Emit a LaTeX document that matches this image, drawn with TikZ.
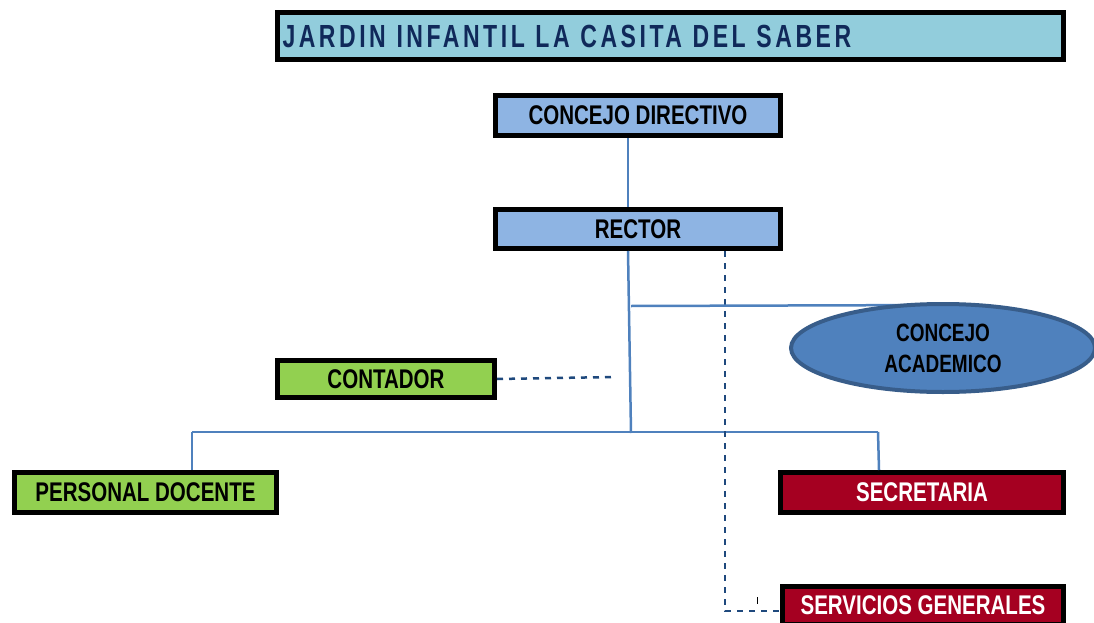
\documentclass[tikz,border=0pt]{standalone}
\usepackage{fontspec}
\setmainfont{Liberation Sans}
\newfontfamily\narrowfont[FakeStretch=0.76]{Liberation Sans}
\newfontfamily\titlefont[FakeStretch=0.72,LetterSpace=11]{Liberation Sans}
\usetikzlibrary{shapes.geometric}
\definecolor{titlebg}{HTML}{92CDDC}
\definecolor{titletext}{HTML}{10295A}
\definecolor{bluebox}{HTML}{8EB4E3}
\definecolor{greenbox}{HTML}{92D050}
\definecolor{redbox}{HTML}{A50021}
\definecolor{ellfill}{HTML}{4F81BD}
\definecolor{elldraw}{HTML}{385D8A}
\definecolor{solidline}{HTML}{4F81BD}
\definecolor{dashline}{HTML}{1F497D}
\tikzset{
  orgbox/.style={draw=black, line width=5pt, rectangle, inner sep=0pt,
    font=\narrowfont\bfseries\fontsize{27}{29}\selectfont},
  solidconn/.style={draw=solidline, line width=2.5pt},
  dashconn/.style={draw=dashline, line width=2.5pt, dash pattern=on 6pt off 6pt},
  acad/.style={ellipse, draw=elldraw, fill=ellfill, line width=4pt, minimum width=304,
    minimum height=88, inner sep=0pt, align=center,
    font=\narrowfont\bfseries\fontsize{25}{31}\selectfont},
}
\begin{document}
\begin{tikzpicture}[x=1pt,y=-1pt]
\useasboundingbox (0,0) rectangle (1094,623);
\clip (0,0) rectangle (1094,623);
% coordinates for connector routes
\coordinate (trunk) at (628,0);
\coordinate (trunkbot) at (631,433);
\coordinate (branch) at (631,306);
\coordinate (busL) at (192,432);
\coordinate (busR) at (878,432);
\coordinate (contEnd) at (614,377);
\coordinate (dotx) at (725,0);
\coordinate (dotcorner) at (725,611);
\coordinate (tickA) at (757,597);
\coordinate (tickB) at (757,604);

% nodes
\node[orgbox, fill=titlebg, minimum width=786, minimum height=47, text width=776,
      align=left, text=titletext, font=\titlefont\bfseries\fontsize{32}{34}\selectfont]
      (title) at (670.5,36) {JARDIN INFANTIL LA CASITA DEL SABER};
\node[orgbox, fill=bluebox, minimum width=285, minimum height=40] (cd) at (638,115.5) {CONCEJO DIRECTIVO};
\node[orgbox, fill=bluebox, minimum width=285, minimum height=39] (rector) at (638,229) {RECTOR};
\node[orgbox, fill=greenbox, minimum width=217, minimum height=37] (contador) at (386,379) {CONTADOR};
\node[orgbox, fill=greenbox, minimum width=262, minimum height=40] (docente) at (145.5,492.5) {PERSONAL DOCENTE};
\node[orgbox, fill=redbox, text=white, minimum width=283, minimum height=40] (secretaria) at (922,492.5) {SECRETARIA};
\node[orgbox, fill=redbox, text=white, minimum width=281, minimum height=38] (servicios) at (923,605) {SERVICIOS GENERALES};

% connectors
\draw[solidconn] (cd.south -| trunk) -- (rector.north -| trunk);
\draw[solidconn] (rector.south -| trunk) -- (trunkbot);
\draw[solidconn] (busL) -- (busR);
\draw[solidconn] (busL) -- (docente.north -| busL);
\draw[solidconn] (busR) -- ([xshift=1pt]secretaria.north -| busR);
\draw[dashconn] (contador.east) -- (contEnd);
\draw[dashconn] (rector.south -| dotx) -- (dotcorner) -- (servicios.west |- dotcorner);
\draw[black, line width=1pt] (tickA) -- (tickB);

% concejo academico (line drawn first so the ellipse covers its end)
\coordinate (catop) at (943,305);
\draw[solidconn] (branch) -- (catop);
\node[acad] (ca) at (943,348) {CONCEJO\\ACADEMICO};
\end{tikzpicture}
\end{document}
